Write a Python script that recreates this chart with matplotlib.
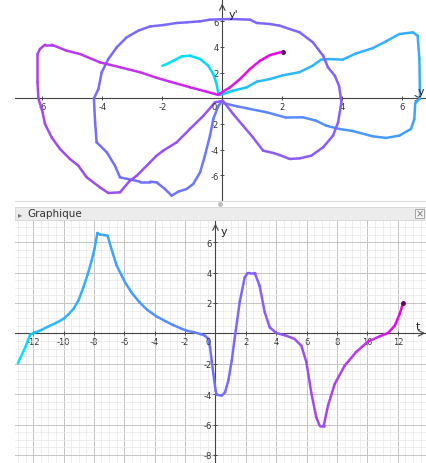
import numpy as np
import matplotlib.pyplot as plt
from matplotlib.collections import LineCollection
from matplotlib.colors import LinearSegmentedColormap
from matplotlib.patches import Rectangle
from matplotlib.ticker import MultipleLocator

plt.rcParams['axes.unicode_minus'] = False

# y(t)
t_vals = [-13.0, -12.47, -12.2, -12.0, -11.5, -11.0, -10.5, -10.0, -9.7, -9.35, -9.0, -8.7, -8.4,
          -8.15, -7.95, -7.77, -7.6, -7.1, -6.8, -6.5, -6.2, -5.95, -5.5, -5.0, -4.5,
          -3.9, -3.3, -2.8, -2.3, -1.9, -1.4, -1.0, -0.69, -0.47, -0.36, -0.25, -0.14,
          0.01, 0.08, 0.41, 0.63, 0.84, 1.07, 1.24, 1.59, 1.92, 2.1, 2.25, 2.58, 2.9,
          3.24, 3.57, 4.0, 4.66, 5.2, 5.65, 5.98, 6.3, 6.63, 6.85, 7.12, 7.4, 7.84,
          8.5, 9.27, 10.03, 10.8, 11.35, 11.79, 12.12, 12.34]
y_vals = [-1.97, -0.82, -0.1, 0.0, 0.2, 0.45, 0.68, 0.95, 1.22, 1.6, 2.2, 3.0, 3.9,
          4.78, 5.6, 6.6, 6.5, 6.42, 5.4, 4.45, 3.85, 3.35, 2.65, 2.04, 1.55,
          1.12, 0.8, 0.55, 0.33, 0.17, 0.07, -0.05, -0.16, -0.37, -0.92, -1.8, -2.68,
          -3.78, -4.04, -4.1, -3.88, -3.12, -1.8, -0.49, 2.04, 3.68, 3.95, 3.97, 3.97, 3.13,
          1.38, 0.39, 0.02, -0.16, -0.37, -0.82, -1.9, -3.9, -5.53, -6.08, -6.08, -4.76, -3.34,
          -2.13, -1.21, -0.55, -0.2, 0.02, 0.5, 1.27, 1.99]

# phase portrait (y, y'), one piece per stretch of t
p1_y = [-2.0, -1.85, -1.63, -1.35, -1.08, -0.74, -0.47, -0.3, -0.19, -0.13]
p1_dy = [2.54, 2.67, 2.93, 3.27, 3.32, 3.06, 2.54, 1.89, 1.11, 0.34]
p2_y = [-0.08, 0.37, 0.81, 1.15, 1.59, 2.03, 2.57, 3.01, 3.29, 3.57, 4.01, 4.46,
        5.01, 5.46, 5.9, 6.35, 6.51, 6.57, 6.59]
p2_dy = [0.26, 0.6, 0.85, 1.3, 1.5, 1.8, 2.03, 2.54, 3.01, 3.06, 3.01, 3.5,
         3.9, 4.44, 5.01, 5.14, 4.88, 3.06, 0.0]
p3_y = [6.59, 6.5, 6.43, 6.4, 6.29, 5.9, 5.46, 5.01, 4.35, 3.9, 3.46, 3.12, 2.68,
        2.12, 1.48, 0.92, 0.48, 0.03]
p3_dy = [0.0, -0.2, -0.4, -1.61, -2.39, -2.91, -3.09, -2.96, -2.55, -2.39, -2.13,
         -1.74, -1.48, -1.5, -1.09, -0.83, -0.62, -0.37]
p4_y = [0.0, -0.13, -0.3, -0.41, -0.58, -0.74, -0.97, -1.19, -1.47, -1.69, -1.91,
        -2.19, -2.41, -2.74, -3.41, -3.58, -3.85, -4.19, -4.24, -4.28, -4.13, -4.02,
        -3.8, -3.52, -3.19, -2.8, -2.41, -1.97, -1.52, -1.19, -0.74, -0.41, 0.26,
        0.92, 1.15, 1.59, 1.91, 2.58, 3.02, 3.36, 3.52, 3.75, 3.89, 3.95]
p4_dy = [-0.2, -0.58, -1.61, -2.91, -4.47, -5.77, -6.68, -7.07, -7.28, -7.59, -7.07,
         -6.55, -6.5, -6.5, -6.16, -5.25, -4.21, -3.43, -1.87, 0.0, 0.72, 2.03,
         3.06, 3.97, 4.75, 5.27, 5.6, 5.71, 5.87, 5.92, 6.0, 6.13, 6.18,
         6.13, 5.87, 5.79, 5.66, 5.14, 4.36, 3.32, 2.42, 1.76, 0.98, 0.05]
p5_y = [3.95, 3.97, 3.86, 3.69, 3.36, 2.97, 2.58, 2.25, 1.91, 1.69, 1.36, 1.02,
        0.69, 0.36, 0.02]
p5_dy = [0.05, -0.31, -1.87, -2.91, -3.82, -4.47, -4.68, -4.73, -4.42, -4.26, -4.08,
         -3.04, -2.13, -1.22, -0.2]
p6_y = [0.02, -0.24, -0.63, -1.08, -1.52, -1.97, -2.19, -2.41, -2.85, -3.08, -3.41,
        -3.8, -4.08, -4.52, -4.8, -5.08, -5.41, -5.69, -5.91, -5.99, -6.13]
p6_dy = [-0.2, -0.31, -1.36, -2.39, -3.43, -4.08, -4.47, -4.99, -6.03, -6.42, -7.33,
         -7.38, -6.94, -6.16, -5.25, -4.73, -3.95, -3.04, -2.0, -1.09, 0.0]
p7_y = [-6.13, -6.16, -6.16, -6.08, -5.91, -5.69, -5.19, -4.74, -4.08, -3.41, -2.74,
        -2.19, -1.74, -1.08, -0.52, -0.13]
p7_dy = [0.0, 1.25, 3.45, 3.84, 4.18, 4.18, 3.71, 3.45, 2.8, 2.42, 2.03,
         1.6, 1.29, 0.86, 0.51, 0.26]
p8_y = [-0.13, 0.26, 0.59, 0.92, 1.26, 1.59, 2.01]
p8_dy = [0.3, 0.86, 1.5, 2.28, 2.93, 3.37, 3.63]

pieces_y = [p1_y, p2_y, p3_y, p4_y, p5_y, p6_y, p7_y, p8_y]
pieces_dy = [p1_dy, p2_dy, p3_dy, p4_dy, p5_dy, p6_dy, p7_dy, p8_dy]
pieces_t = [(-13, -12.2), (-12.2, -7.7), (-7.7, -1), (-1, 2.3), (2.3, 4),
            (4, 7), (7, 11), (11, 12.34)]

# colour along t
t_anchor = [-13, -12.2, -11.5, -8, -2, 0, 3, 7, 10, 12.34]
c_anchor = ['#00e4ff', '#00d4ff', '#2cbaff', '#36aaff', '#5b88ff', '#7070ff',
            '#8a5cff', '#a247f3', '#c72ff0', '#ee00ee']
t0, t1 = t_anchor[0], t_anchor[-1]
cmap = LinearSegmentedColormap.from_list(
    'tcol', [((a - t0) / (t1 - t0), c) for a, c in zip(t_anchor, c_anchor)])


def grad_line(ax, x, y, tt, lw=1.8):
    pts = np.column_stack([x, y]).reshape(-1, 1, 2)
    segs = np.concatenate([pts[:-1], pts[1:]], axis=1)
    tm = (np.asarray(tt[:-1]) + np.asarray(tt[1:])) / 2
    lc = LineCollection(segs, colors=cmap((tm - t0) / (t1 - t0)), linewidths=lw,
                        capstyle='round', joinstyle='round', zorder=3)
    ax.add_collection(lc)


def geo_axes(ax, xlim, ylim, ticks):
    ax.set_xlim(*xlim)
    ax.set_ylim(*ylim)
    for s in ['top', 'right']:
        ax.spines[s].set_visible(False)
    for s in ['left', 'bottom']:
        ax.spines[s].set_position(('data', 0))
        ax.spines[s].set_color('#444444')
        ax.spines[s].set_linewidth(0.8)
        ax.spines[s].set_zorder(2)
    ax.set_xticks([v for v in ticks[0]])
    ax.set_yticks([v for v in ticks[1]])
    ax.tick_params(which='major', direction='inout', length=3, width=0.6,
                   labelsize=6, colors='#333333', pad=1)
    ax.tick_params(which='minor', length=0)
    ax.annotate('', xy=(xlim[1] - 0.05, 0), xytext=(xlim[1] - 0.4, 0),
                arrowprops=dict(arrowstyle='->', color='#444444', lw=0.8))


W, H = 426, 464


def rect(x0, y0, x1, y1):
    return [x0 / W, 1 - y1 / H, (x1 - x0) / W, (y1 - y0) / H]


fig = plt.figure(figsize=(W / 100, H / 100), dpi=100)

# upper panel: (y, y')
ax1 = fig.add_axes(rect(15, 0, 426, 202))
geo_axes(ax1, ((15 - 222.3) / 30, (426 - 222.3) / 30), (-(202 - 99.3) / 12.83, 99.3 / 12.83),
         ([-6, -4, -2, 2, 4, 6], [-6, -4, -2, 2, 4, 6]))
ax1.annotate('', xy=(0, 7.6), xytext=(0, 7.0),
             arrowprops=dict(arrowstyle='->', color='#444444', lw=0.8))
for py, pdy, (ta, tb) in zip(pieces_y, pieces_dy, pieces_t):
    grad_line(ax1, py, pdy, np.linspace(ta, tb, len(py)))
ax1.plot(p8_y[-1], p8_dy[-1], 'o', ms=2.5, color='#660066', zorder=4)
ax1.text(-0.2, -0.25, '0', fontsize=6, color='#333333', ha='right', va='top')
ax1.text(0.2, 6.6, "y'", fontsize=8, color='#222222', ha='left', va='center')
ax1.text(6.5, 0.2, 'y', fontsize=8, color='#222222', ha='left', va='bottom')

# lower panel: y against t
ax2 = fig.add_axes(rect(15, 221, 426, 464))
geo_axes(ax2, ((15 - 215.5) / 15.2, (426 - 215.5) / 15.2), (-(464 - 334.3) / 15.2, (334.3 - 221) / 15.2),
         ([-12, -10, -8, -6, -4, -2, 2, 4, 6, 8, 10, 12], [-8, -6, -4, -2, 2, 4, 6]))
ax2.xaxis.set_minor_locator(MultipleLocator(0.5))
ax2.yaxis.set_minor_locator(MultipleLocator(0.5))
ax2.grid(which='minor', color='#e8e8e8', lw=0.5)
ax2.grid(which='major', color='#c4c4c4', lw=0.7)
ax2.set_axisbelow(True)
ax2.annotate('', xy=(0, 7.4), xytext=(0, 6.9),
             arrowprops=dict(arrowstyle='->', color='#444444', lw=0.8))
grad_line(ax2, t_vals, y_vals, t_vals)
ax2.plot(t_vals[-1], y_vals[-1], 'o', ms=2.5, color='#660066', zorder=4)
ax2.text(-0.3, -0.25, '0', fontsize=6, color='#333333', ha='right', va='top')
ax2.text(0.35, 6.75, 'y', fontsize=8, color='#222222', ha='left', va='center')
ax2.text(13.2, 0.15, 't', fontsize=8, color='#222222', ha='left', va='bottom')

# splitter and the "Graphique" title bar
fig.add_artist(plt.Line2D([15 / W, 1], [1 - 202 / H] * 2, color='#dddddd', lw=0.8))
fig.add_artist(plt.Line2D([220 / W], [1 - 205 / H], marker='o', ms=2.5,
                          color='#bbbbbb', lw=0))
fig.add_artist(Rectangle((15 / W, 1 - 221 / H), 411 / W, 13 / H, transform=fig.transFigure,
                         facecolor='#ececec', edgecolor='#d4d4d4', lw=0.6))
fig.text(18 / W, 1 - 214.5 / H, '\u25b8', fontsize=6, color='#777777', va='center')
fig.text(27 / W, 1 - 214.5 / H, 'Graphique', fontsize=7.5, color='#333333', va='center')
fig.add_artist(Rectangle((415 / W, 1 - 219 / H), 9 / W, 9 / H, transform=fig.transFigure,
                         facecolor='#f4f4f4', edgecolor='#999999', lw=0.6))
fig.text(419.5 / W, 1 - 214.5 / H, '\u00d7', fontsize=7, color='#777777',
         ha='center', va='center')

fig.savefig('out.png', dpi=100)
